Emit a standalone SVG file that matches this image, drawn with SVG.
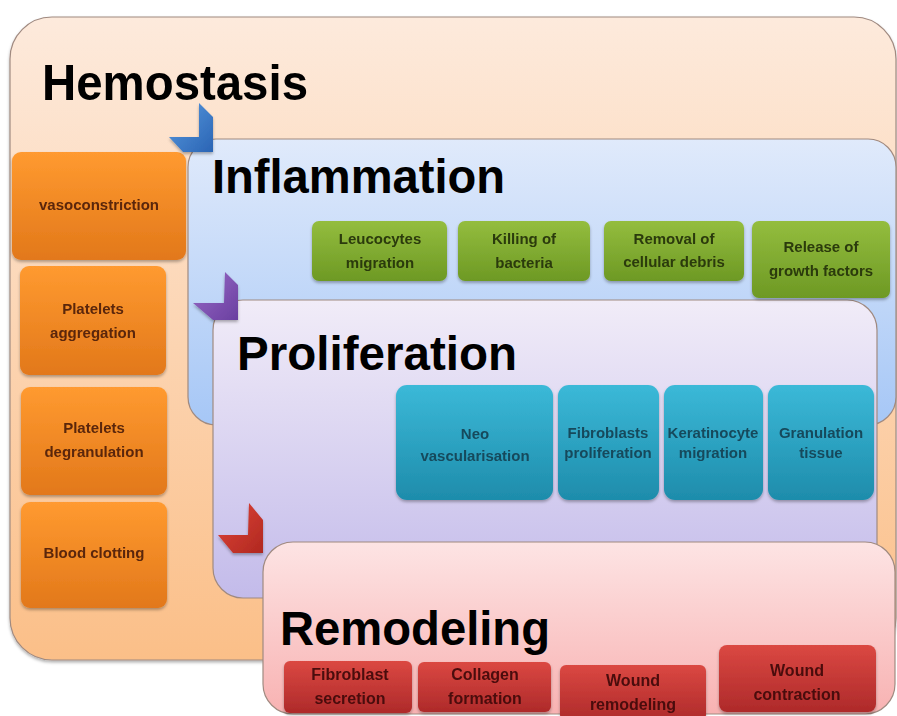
<svg xmlns="http://www.w3.org/2000/svg" width="897" height="716" viewBox="0 0 897 716">
<defs>
<linearGradient id="gHemo" x1="0" y1="0" x2="0" y2="1"><stop offset="0" stop-color="#fdeadc"/><stop offset="1" stop-color="#fbbf88"/></linearGradient>
<linearGradient id="gInfl" x1="0" y1="0" x2="0" y2="1"><stop offset="0" stop-color="#e0eafb"/><stop offset="1" stop-color="#a6c7f6"/></linearGradient>
<linearGradient id="gProl" x1="0" y1="0" x2="0" y2="1"><stop offset="0" stop-color="#f1ecf8"/><stop offset="1" stop-color="#c3bbea"/></linearGradient>
<linearGradient id="gRemo" x1="0" y1="0" x2="0" y2="1"><stop offset="0" stop-color="#fde4e4"/><stop offset="1" stop-color="#f8b2b2"/></linearGradient>
<linearGradient id="gOrange" x1="0" y1="0" x2="0" y2="1"><stop offset="0" stop-color="#ff9a30"/><stop offset="1" stop-color="#e2781a"/></linearGradient>
<linearGradient id="gGreen" x1="0" y1="0" x2="0" y2="1"><stop offset="0" stop-color="#94bd3e"/><stop offset="1" stop-color="#6d9924"/></linearGradient>
<linearGradient id="gTeal" x1="0" y1="0" x2="0" y2="1"><stop offset="0" stop-color="#3bb9d8"/><stop offset="1" stop-color="#1e8cab"/></linearGradient>
<linearGradient id="gRed" x1="0" y1="0" x2="0" y2="1"><stop offset="0" stop-color="#db4842"/><stop offset="1" stop-color="#ae2a2a"/></linearGradient>
<linearGradient id="gBlueA" x1="0" y1="0" x2="1" y2="1"><stop offset="0" stop-color="#5a9be0"/><stop offset="1" stop-color="#2a64b4"/></linearGradient>
<linearGradient id="gPurpA" x1="0" y1="0" x2="1" y2="1"><stop offset="0" stop-color="#9a6cc8"/><stop offset="1" stop-color="#6a3fa0"/></linearGradient>
<linearGradient id="gRedA" x1="0" y1="0" x2="1" y2="1"><stop offset="0" stop-color="#e0453a"/><stop offset="1" stop-color="#b02820"/></linearGradient>
<filter id="sh" x="-10%" y="-10%" width="120%" height="130%"><feDropShadow dx="0" dy="2" stdDeviation="1.5" flood-color="#000" flood-opacity="0.3"/></filter>
</defs>
<style>
.phase{stroke:#a08a80;stroke-width:1.2}
.title{font-family:"Liberation Sans",Arial,sans-serif;font-weight:bold;fill:#000}
.box{filter:url(#sh)}
.t{font-family:"Liberation Sans",Arial,sans-serif;font-size:15px;font-weight:bold;text-anchor:middle}
.to{fill:#5a2608}
.tg{fill:#2c3a0c}
.tt{fill:#174a5c}
.tr{fill:#4a0c0c;font-size:16px}
</style>
<rect width="897" height="716" fill="#ffffff"/>

<g id="hemostasis">
<rect x="10" y="17" width="886" height="643" rx="42" ry="42" fill="url(#gHemo)" class="phase" filter="url(#sh)"/>
<text class="title" x="42" y="100" font-size="50" textLength="266" lengthAdjust="spacingAndGlyphs">Hemostasis</text>
</g>
<g id="vasoconstriction" class="box"><rect x="12" y="152" width="174" height="108" rx="9" fill="url(#gOrange)"/><text class="t to" x="99" y="210">vasoconstriction</text></g>
<g id="platelets-aggregation" class="box"><rect x="20" y="266" width="146" height="109" rx="9" fill="url(#gOrange)"/><text class="t to" x="93" y="314">Platelets</text><text class="t to" x="93" y="338">aggregation</text></g>
<g id="platelets-degranulation" class="box"><rect x="21" y="387" width="146" height="108" rx="9" fill="url(#gOrange)"/><text class="t to" x="94" y="433">Platelets</text><text class="t to" x="94" y="457">degranulation</text></g>
<g id="blood-clotting" class="box"><rect x="21" y="502" width="146" height="106" rx="9" fill="url(#gOrange)"/><text class="t to" x="94" y="558">Blood clotting</text></g>

<g id="inflammation">
<rect x="188" y="139" width="708" height="286" rx="28" ry="28" fill="url(#gInfl)" class="phase"/>
<text class="title" x="212" y="193" font-size="48" textLength="293" lengthAdjust="spacingAndGlyphs">Inflammation</text>
</g>
<g id="leucocytes-migration" class="box"><rect x="312" y="221" width="135" height="60" rx="7" fill="url(#gGreen)"/><text class="t tg" x="380" y="244">Leucocytes</text><text class="t tg" x="380" y="268">migration</text></g>
<g id="killing-of-bacteria" class="box"><rect x="458" y="221" width="132" height="60" rx="7" fill="url(#gGreen)"/><text class="t tg" x="524" y="244">Killing of</text><text class="t tg" x="524" y="268">bacteria</text></g>
<g id="removal-of-cellular-debris" class="box"><rect x="604" y="221" width="140" height="60" rx="7" fill="url(#gGreen)"/><text class="t tg" x="674" y="244">Removal of</text><text class="t tg" x="674" y="267">cellular debris</text></g>

<g id="proliferation">
<rect x="213" y="300" width="664" height="298" rx="30" ry="30" fill="url(#gProl)" class="phase"/>
<text class="title" x="237" y="370" font-size="48" textLength="280" lengthAdjust="spacingAndGlyphs">Proliferation</text>
</g>
<g id="release-of-growth-factors" class="box"><rect x="752" y="221" width="138" height="77" rx="7" fill="url(#gGreen)"/><text class="t tg" x="821" y="252">Release of</text><text class="t tg" x="821" y="276">growth factors</text></g>
<g id="neo-vascularisation" class="box"><rect x="396" y="385" width="157" height="115" rx="11" fill="url(#gTeal)"/><text class="t tt" x="475" y="439" font-size="16">Neo</text><text class="t tt" x="475" y="461" font-size="16">vascularisation</text></g>
<g id="fibroblasts-proliferation" class="box"><rect x="558" y="385" width="101" height="115" rx="11" fill="url(#gTeal)"/><text class="t tt" x="608" y="438" font-size="11.5">Fibroblasts</text><text class="t tt" x="608" y="458" font-size="11.5">proliferation</text></g>
<g id="keratinocyte-migration" class="box"><rect x="664" y="385" width="99" height="115" rx="11" fill="url(#gTeal)"/><text class="t tt" x="713" y="438" font-size="11.5">Keratinocyte</text><text class="t tt" x="713" y="458" font-size="11.5">migration</text></g>
<g id="granulation-tissue" class="box"><rect x="768" y="385" width="106" height="115" rx="11" fill="url(#gTeal)"/><text class="t tt" x="821" y="438" font-size="11.5">Granulation</text><text class="t tt" x="821" y="458" font-size="11.5">tissue</text></g>

<g id="remodeling">
<rect x="263" y="542" width="632" height="172" rx="30" ry="30" fill="url(#gRemo)" class="phase"/>
<text class="title" x="280" y="645" font-size="48" textLength="270" lengthAdjust="spacingAndGlyphs">Remodeling</text>
</g>
<g id="fibroblast-secretion" class="box"><rect x="284" y="661" width="128" height="52" rx="6" fill="url(#gRed)"/><text class="t tr" x="350" y="680">Fibroblast</text><text class="t tr" x="350" y="704">secretion</text></g>
<g id="collagen-formation" class="box"><rect x="418" y="662" width="133" height="50" rx="6" fill="url(#gRed)"/><text class="t tr" x="485" y="680">Collagen</text><text class="t tr" x="485" y="704">formation</text></g>
<g id="wound-remodeling" class="box"><rect x="560" y="665" width="146" height="56" rx="6" fill="url(#gRed)"/><text class="t tr" x="633" y="686">Wound</text><text class="t tr" x="633" y="710">remodeling</text></g>
<g id="wound-contraction" class="box"><rect x="719" y="645" width="157" height="67" rx="8" fill="url(#gRed)"/><text class="t tr" x="797" y="676">Wound</text><text class="t tr" x="797" y="700">contraction</text></g>

<g id="connectors" filter="url(#sh)">
<polygon points="199,103 213,117 213,152 183,152 169,137 199,137" fill="url(#gBlueA)"/>
<polygon points="225,272 238,285 238,320 213,320 193,303 224,303" fill="url(#gPurpA)"/>
<polygon points="249,503 263,520 263,553 233,553 218,535 248,535" fill="url(#gRedA)"/>
</g>
</svg>
